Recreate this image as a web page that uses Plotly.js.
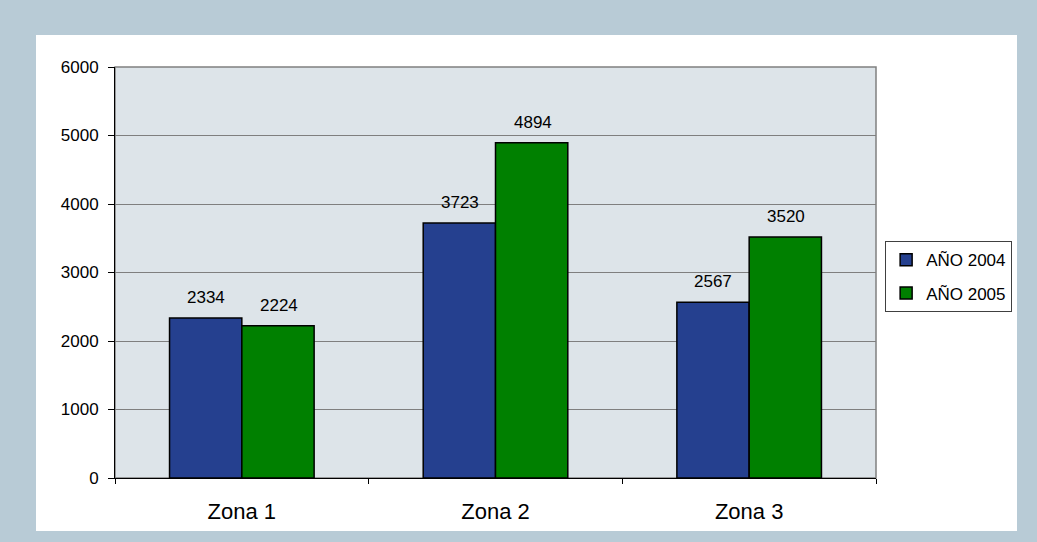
<!DOCTYPE html>
<html>
<head>
<meta charset="utf-8">
<script src="https://cdn.plot.ly/plotly-3.0.1.min.js"></script>
<style>
  html, body { margin: 0; padding: 0; background: #b8cbd6; }
  #chart { width: 1037px; height: 542px; }
</style>
</head>
<body>
<div id="chart"></div>
<script>
// categories and values
const zonas = ["Zona 1", "Zona 2", "Zona 3"];
const serieNames = ["AÑO 2004", "AÑO 2005"];
const valores2004 = [2334, 3723, 2567];
const valores2005 = [2224, 4894, 3520];
const yTicks = [0, 1000, 2000, 3000, 4000, 5000, 6000];

const colors = ["#25408f", "#008000"];
const font = "Liberation Sans, Arial, sans-serif";

const series = [valores2004, valores2005];

const traces = series.map((vals, i) => ({
  type: "bar",
  name: serieNames[i],
  legendgroup: "g" + i,
  x: zonas,
  y: vals,
  marker: { color: colors[i], line: { color: "#000000", width: 1.5 } },
  hoverinfo: "skip",
}));

// value labels above each bar
const annotations = [];
series.forEach((vals, i) => {
  vals.forEach((v, j) => {
    annotations.push({
      x: zonas[j],
      y: v,
      xref: "x",
      yref: "y",
      text: String(v),
      showarrow: false,
      xanchor: "center",
      yanchor: "bottom",
      xshift: i === 0 ? -36 : 37,
      yshift: 9,
      font: { family: font, size: 17, color: "#000000" },
    });
  });
});

const layout = {
  width: 1037,
  height: 542,
  margin: { l: 115, r: 161, t: 67, b: 64, autoexpand: false },
  paper_bgcolor: "#b8cbd6",
  plot_bgcolor: "rgba(0,0,0,0)",
  barmode: "group",
  bargap: 0.43,
  bargroupgap: 0,
  showlegend: true,
  legend: {
    x: 1.012,
    y: 0.576,
    xanchor: "left",
    yanchor: "top",
    bgcolor: "#ffffff",
    bordercolor: "#404040",
    borderwidth: 1,
    traceorder: "grouped",
    tracegroupgap: 8,
    font: { family: font, size: 17, color: "#000000" },
  },
  xaxis: {
    type: "category",
    showgrid: false,
    showline: true,
    linecolor: "#000000",
    linewidth: 1,
    ticks: "outside",
    tickson: "boundaries",
    ticklen: 5,
    tickcolor: "#000000",
    ticklabelstandoff: 14,
    tickfont: { family: font, size: 22, color: "#000000" },
    fixedrange: true,
  },
  yaxis: {
    range: [0, 6000],
    tickvals: yTicks,
    ticktext: yTicks.map(String),
    showgrid: true,
    gridcolor: "#7f7f7f",
    gridwidth: 1,
    zeroline: false,
    showline: true,
    linecolor: "#000000",
    linewidth: 1,
    ticks: "outside",
    ticklen: 6,
    tickcolor: "#000000",
    ticklabelstandoff: 6,
    tickfont: { family: font, size: 17, color: "#000000" },
    fixedrange: true,
  },
  shapes: [
    // white card inside the blue frame
    {
      type: "rect", xref: "paper", yref: "paper", layer: "below",
      x0: -0.1038, x1: 1.1853, y0: -0.129, y1: 1.078,
      fillcolor: "#ffffff", line: { width: 0 },
    },
    // grey plot area with grey border
    {
      type: "rect", xref: "paper", yref: "paper", layer: "below",
      x0: 0, x1: 1, y0: 0, y1: 1,
      fillcolor: "#dde4e9", line: { color: "#808080", width: 1.5 },
    },
  ],
  annotations: annotations,
};

Plotly.newPlot("chart", traces, layout, { displayModeBar: false, staticPlot: true });
</script>
</body>
</html>
